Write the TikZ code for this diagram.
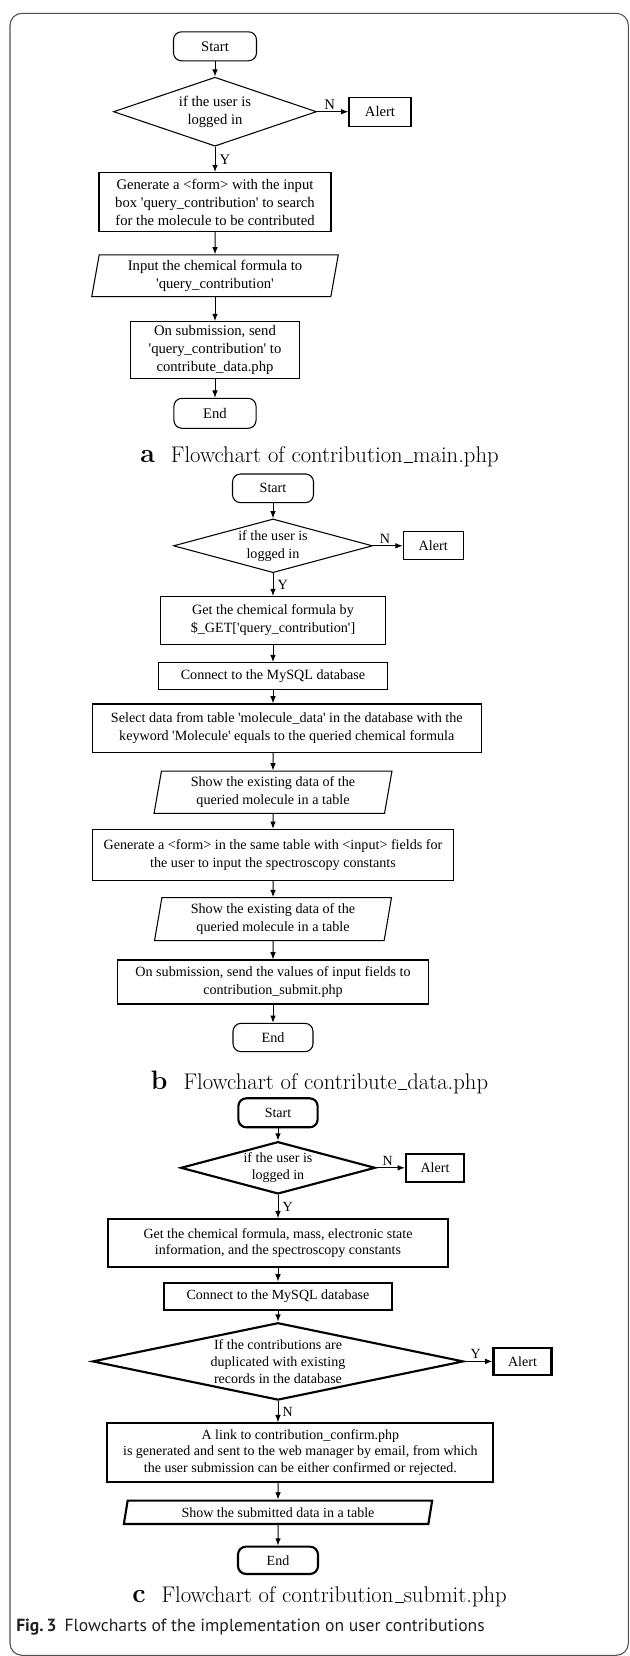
\documentclass[tikz,border=0pt]{standalone}
\usepackage{fontspec}
\usepackage{tikz}
\usetikzlibrary{shapes.geometric,arrows.meta}
\newfontfamily\tnr{Liberation Serif}
\newfontfamily\capsans{PT Sans}
\newcommand{\sq}{\XeTeXglyph\XeTeXcharglyph"27\relax}
\newcommand{\capbar}{\kern.06em\vbox{\hrule width.4em}}

\begin{document}
\begin{tikzpicture}[x=0.75pt,y=0.75pt,yscale=-1,xscale=1,
    every node/.style={inner sep=0pt, align=center},
    fa/.style={font=\tnr\fontsize{11}{13.7}\selectfont},
    fb/.style={font=\tnr\fontsize{10.6}{13.5}\selectfont},
    fc/.style={font=\tnr\fontsize{10.5}{12.6}\selectfont},
    term/.style={draw, rectangle, rounded corners=6pt, line width=0.8pt},
    proc/.style={draw, rectangle, line width=0.8pt},
    decide/.style={draw, diamond, aspect=3.7, line width=0.8pt},
    inout/.style={draw, trapezium, trapezium stretches=true, trapezium left angle=80, trapezium right angle=100, line width=0.8pt},
    heavy/.style={line width=1.6pt},
    flow/.style={-{Latex[length=5.5pt,width=4.2pt]}, line width=0.75pt},
    lbl/.style={inner sep=1.5pt}
  ]
\useasboundingbox (0,0) rectangle (629,1656);

\draw [color={rgb, 255:red, 80; green, 80; blue, 80 }, line width=0.8pt, rounded corners=9pt] (10,13.3) rectangle (628.3,1655.3);

\node [term, fa, minimum width=62.25pt, minimum height=21.75pt] (a_start) at (215,46.3) {Start};
\node [decide, fa, minimum width=152.25pt, minimum height=51.75pt] (a_dec) at (215,111.7) {if the user is\\logged in};
\node [proc, fa, minimum width=46.5pt, minimum height=22pt] (a_alert) at (380,111.7) {Alert};
\node [proc, fa, minimum width=174pt, minimum height=44.25pt] (a_gen) at (215,202.2) {Generate a <form> with the input\\box \sq query\_contribution\sq{} to search\\for the molecule to be contributed};
\node [inout, fa, minimum width=184.9pt, minimum height=31.3pt] (a_in) at (215,275.8) {Input the chemical formula to\\\sq query\_contribution\sq};
\node [proc, fa, minimum width=127.2pt, minimum height=42.5pt] (a_send) at (215,350) {On submission, send\\\sq query\_contribution\sq{} to\\contribute\_data.php};
\node [term, fa, minimum width=61.6pt, minimum height=22.5pt] (a_end) at (215,413.3) {End};

\draw [flow] (a_start) -- (a_dec);
\draw [flow] (a_dec) -- node [fa, lbl, above, pos=0.4] {N} (a_alert);
\draw [flow] (a_dec) -- node [fa, lbl, right, inner sep=3pt] {Y} (a_gen);
\draw [flow] (a_gen) -- (a_in);
\draw [flow] (a_in) -- (a_send);
\draw [flow] (a_send) -- (a_end);

\node [font=\fontsize{17}{20}\selectfont] (cap_a) at (319.5,457) {{\fontsize{20}{20}\selectfont\bfseries a}\hspace{12pt}Flowchart of contribution\capbar main.php};

\node [term, fb, minimum width=60.75pt, minimum height=21.5pt] (b_start) at (273,488.3) {Start};
\node [decide, fb, minimum width=149.25pt, minimum height=40.3pt] (b_dec) at (273,545.8) {if the user is\\logged in};
\node [proc, fb, minimum width=45pt, minimum height=21pt] (b_alert) at (433.2,545.8) {Alert};
\node [proc, fb, minimum width=168.5pt, minimum height=35.8pt] (b_get) at (273,620.5) {Get the chemical formula by\\\$\_GET[\sq query\_contribution\sq]};
\node [proc, fb, minimum width=171.5pt, minimum height=20pt] (b_conn) at (273,676) {Connect to the MySQL database};
\node [proc, fb, minimum width=291.75pt, minimum height=36.5pt] (b_sel) at (286.8,728.3) {Select data from table \sq molecule\_data\sq{} in the database with the\\keyword \sq Molecule\sq{} equals to the queried chemical formula};
\node [inout, fb, minimum width=178.5pt, minimum height=31.7pt] (b_show1) at (273,792.2) {Show the existing data of the\\queried molecule in a table};
\node [proc, fb, minimum width=271.4pt, minimum height=38pt] (b_gen) at (273,854.7) {Generate a <form> in the same table with <input> fields for\\the user to input the spectroscopy constants};
\node [inout, fb, minimum width=177.8pt, minimum height=32.25pt] (b_show2) at (273,919.2) {Show the existing data of the\\queried molecule in a table};
\node [proc, fb, minimum width=232.9pt, minimum height=33pt] (b_send) at (273,982) {On submission, send the values of input fields to\\contribution\_submit.php};
\node [term, fb, minimum width=60pt, minimum height=21.2pt] (b_end) at (273,1037.5) {End};

\draw [flow] (b_start) -- (b_dec);
\draw [flow] (b_dec) -- node [fb, lbl, above, pos=0.4] {N} (b_alert);
\draw [flow] (b_dec) -- node [fb, lbl, right, inner sep=3pt] {Y} (b_get);
\draw [flow] (b_get) -- (b_conn);
\draw [flow] (b_conn) -- (b_conn |- b_sel.north);
\draw [flow] (b_conn |- b_sel.south) -- (b_show1);
\draw [flow] (b_show1) -- (b_gen);
\draw [flow] (b_gen) -- (b_show2);
\draw [flow] (b_show2) -- (b_send);
\draw [flow] (b_send) -- (b_end);

\node [font=\fontsize{17}{20}\selectfont] (cap_b) at (319.5,1082) {{\fontsize{20}{20}\selectfont\bfseries b}\hspace{12pt}Flowchart of contribute\capbar data.php};

\node [term, heavy, fc, minimum width=59.5pt, minimum height=21.75pt] (c_start) at (278,1112.8) {Start};
\node [decide, heavy, fc, minimum width=145.9pt, minimum height=39.2pt] (c_dec) at (278,1167.8) {if the user is\\logged in};
\node [proc, heavy, fc, minimum width=43.5pt, minimum height=20.8pt] (c_alert) at (435,1167.8) {Alert};
\node [proc, heavy, fc, minimum width=254.9pt, minimum height=35.5pt] (c_get) at (278,1243) {Get the chemical formula, mass, electronic state\\information, and the spectroscopy constants};
\node [proc, heavy, fc, minimum width=170.5pt, minimum height=20.5pt] (c_conn) at (278,1296.3) {Connect to the MySQL database};
\node [decide, heavy, fc, aspect=4.75, minimum width=278.25pt, minimum height=58pt] (c_dup) at (278,1361.4) {If the contributions are\\duplicated with existing\\records in the database};
\node [proc, heavy, fc, minimum width=43.5pt, minimum height=20pt] (c_alert2) at (522.5,1361.4) {Alert};
\node [proc, heavy, fc, minimum width=289.5pt, minimum height=43.7pt] (c_link) at (300.4,1452.5) {A link to contribution\_confirm.php\\is generated and sent to the web manager by email, from which\\the user submission can be either confirmed or rejected.};
\node [inout, heavy, fc, trapezium left angle=76, trapezium right angle=104, minimum width=231.7pt, minimum height=17.5pt] (c_show) at (278,1512.3) {Show the submitted data in a table};
\node [term, heavy, fc, minimum width=60pt, minimum height=20.5pt] (c_end) at (278,1560.3) {End};

\draw [flow] (c_start) -- (c_dec);
\draw [flow] (c_dec) -- node [fc, lbl, above, pos=0.4] {N} (c_alert);
\draw [flow] (c_dec) -- node [fc, lbl, right, inner sep=3pt] {Y} (c_get);
\draw [flow] (c_get) -- (c_conn);
\draw [flow] (c_conn) -- (c_dup);
\draw [flow] (c_dup) -- node [fc, lbl, above, pos=0.4] {Y} (c_alert2);
\draw [flow] (c_dup) -- node [fc, lbl, right, inner sep=3pt] {N} (c_dup.south |- c_link.north);
\draw [flow] (c_dup.south |- c_link.south) -- (c_show);
\draw [flow] (c_show) -- (c_end);

\node [font=\fontsize{17}{20}\selectfont] (cap_c) at (319.5,1597) {{\fontsize{20}{20}\selectfont\bfseries c}\hspace{12pt}Flowchart of contribution\capbar submit.php};

\node [anchor=base west, font=\capsans\fontsize{13.2}{15}\selectfont, text={rgb, 255:red, 35; green, 31; blue, 32}] (fig) at (16,1631.7) {\textbf{Fig.\,3}\hspace{6pt}Flowcharts of the implementation on user contributions};

\end{tikzpicture}
\end{document}
